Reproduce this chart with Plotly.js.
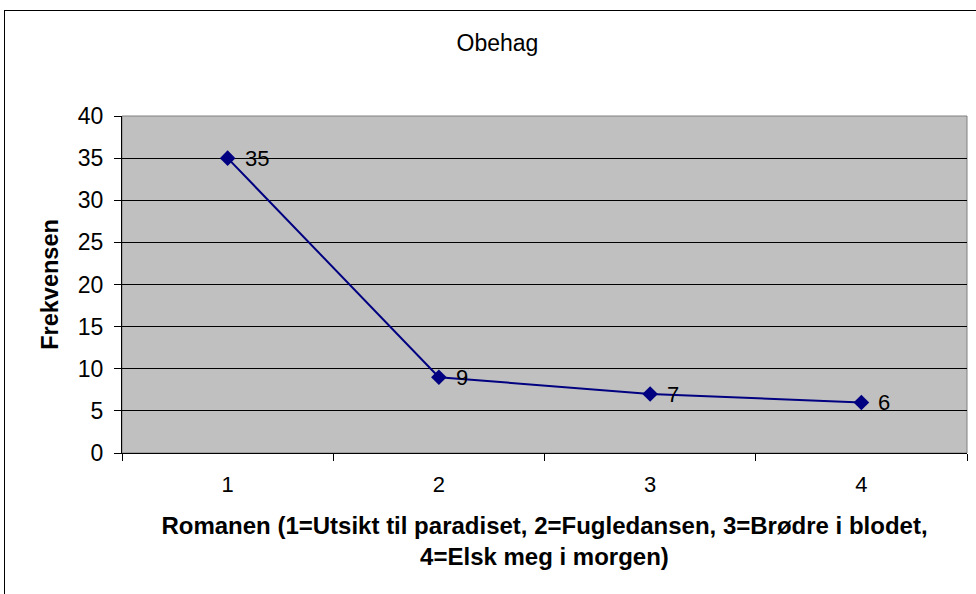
<!DOCTYPE html>
<html>
<head>
<meta charset="utf-8">
<script src="https://cdn.plot.ly/plotly-3.0.1.min.js"></script>
<style>
html,body{margin:0;padding:0;overflow:hidden;background:#fff;}
#wrap{position:relative;width:976px;height:594px;}
#chart{width:976px;height:594px;}
#frame{position:absolute;left:4px;top:10px;width:990px;height:610px;border:1px solid #000;pointer-events:none;box-sizing:border-box;}
</style>
</head>
<body>
<div id="wrap"><div id="chart"></div><div id="frame"></div></div>
<script>
const categories = ['1', '2', '3', '4'];
const frequencies = [35, 9, 7, 6];
const yTicks = [0, 5, 10, 15, 20, 25, 30, 35, 40];

const trace = {
  x: categories,
  y: frequencies,
  type: 'scatter',
  mode: 'lines+markers',
  line: {color: '#000080', width: 2},
  marker: {symbol: 'diamond', size: 12, color: '#000080'},
  cliponaxis: false,
  hoverinfo: 'x+y'
};

// On a category axis, annotation x is the category's index
const labelAnnotations = categories.map((c, i) => ({
  x: i, y: frequencies[i], xref: 'x', yref: 'y',
  text: String(frequencies[i]),
  showarrow: false,
  xanchor: 'left', yanchor: 'middle',
  xshift: 15,
  font: {family: 'Liberation Sans, Arial, sans-serif', size: 22, color: '#000'}
}));

const layout = {
  width: 976,
  height: 594,
  margin: {l: 122, r: 9, t: 116, b: 141},
  paper_bgcolor: '#ffffff',
  plot_bgcolor: '#c0c0c0',
  font: {family: 'Liberation Sans, Arial, sans-serif', color: '#000'},
  showlegend: false,
  title: {
    text: 'Obehag',
    font: {size: 23, color: '#000'},
    x: 497.5 / 976, xref: 'container', xanchor: 'center',
    y: 1 - 43 / 594, yref: 'container', yanchor: 'middle'
  },
  xaxis: {
    type: 'category',
    range: [-0.5, 3.5],
    tickson: 'boundaries',
    ticks: 'outside',
    ticklen: 7,
    tickcolor: '#000',
    tickwidth: 1,
    showgrid: false,
    showline: true,
    linecolor: '#000',
    linewidth: 1,
    zeroline: false,
    tickfont: {size: 22, color: '#000'},
    ticklabelstandoff: 12,
    title: {
      text: 'Romanen (1=Utsikt til paradiset, 2=Fugledansen, 3=Brødre i blodet,<br>4=Elsk meg i morgen)',
      font: {size: 24, color: '#000', weight: 'bold'},
      standoff: 20
    },
    automargin: false,
    fixedrange: true
  },
  yaxis: {
    range: [0, 40],
    tickvals: yTicks,
    ticks: 'outside',
    ticklen: 7,
    tickcolor: '#000',
    showgrid: true,
    gridcolor: '#000',
    gridwidth: 1,
    showline: true,
    linecolor: '#000',
    linewidth: 1,
    zeroline: false,
    tickfont: {size: 23, color: '#000'},
    ticklabelstandoff: 6,
    title: {
      text: 'Frekvensen',
      font: {size: 23.5, color: '#000', weight: 'bold'},
      standoff: 12
    },
    automargin: false,
    fixedrange: true
  },
  annotations: labelAnnotations,
  shapes: [{
    type: 'rect', xref: 'paper', yref: 'paper', x0: 0, x1: 1, y0: 0, y1: 1,
    line: {color: '#808080', width: 1}, layer: 'below'
  }]
};

Plotly.newPlot('chart', [trace], layout, {displayModeBar: false, staticPlot: true});
</script>
</body>
</html>
